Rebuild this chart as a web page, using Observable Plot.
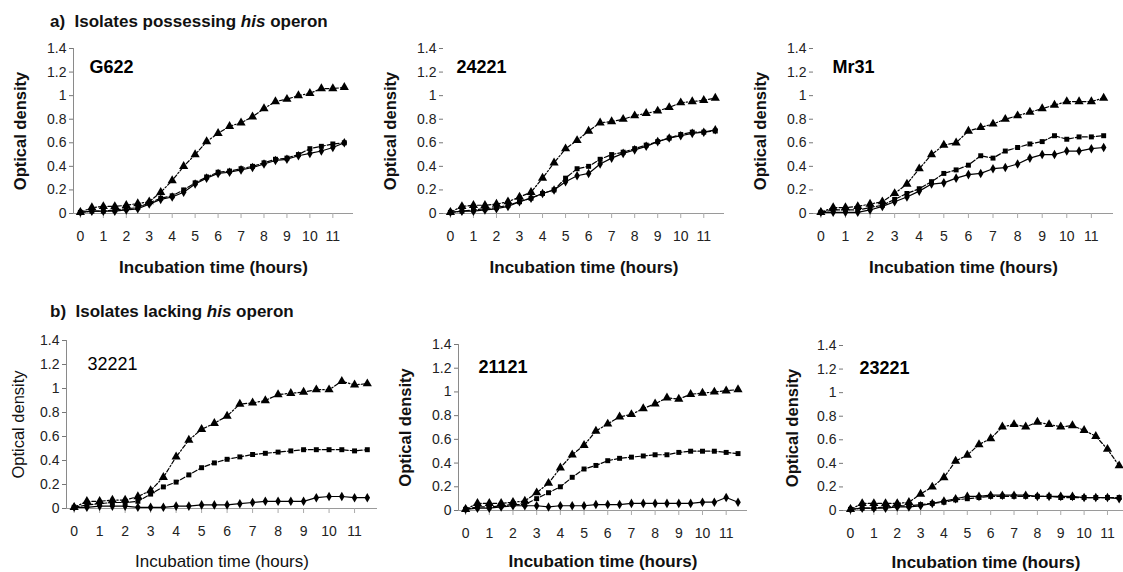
<!DOCTYPE html>
<html><head><meta charset="utf-8">
<script src="https://cdn.jsdelivr.net/npm/d3@7"></script>
<script src="https://cdn.jsdelivr.net/npm/@observablehq/plot@0.6"></script>
<style>
body{margin:0;background:#fff;font-family:"Liberation Sans",Arial,Helvetica,sans-serif;}
#wrap{position:relative;width:1123px;height:572px;overflow:hidden;background:#fff;}
.title{position:absolute;font-size:17px;line-height:1;font-weight:bold;color:#111;white-space:pre;}
.panel{position:absolute;}
</style></head><body>
<div id="wrap">
<div class="title" style="left:50px;top:13px">a)  Isolates possessing <i>his</i> operon</div>
<div class="title" style="left:50px;top:303px">b)  Isolates lacking <i>his</i> operon</div>
</div>
<script>
// ---- data ----
const time = [0,0.5,1,1.5,2,2.5,3,3.5,4,4.5,5,5.5,6,6.5,7,7.5,8,8.5,9,9.5,10,10.5,11,11.5];
const xTickValues = [0,1,2,3,4,5,6,7,8,9,10,11];
const yTickValues = [0,0.2,0.4,0.6,0.8,1,1.2,1.4];
const isolates = ["G622","24221","Mr31","32221","21121","23221"];

const G622_tri = [0.01,0.05,0.06,0.06,0.07,0.085,0.10,0.18,0.28,0.40,0.50,0.61,0.68,0.74,0.77,0.82,0.89,0.95,0.97,1.00,1.02,1.06,1.06,1.07];
const G622_sq  = [0.01,0.02,0.02,0.03,0.04,0.05,0.09,0.13,0.15,0.20,0.26,0.31,0.35,0.36,0.38,0.40,0.43,0.46,0.47,0.50,0.55,0.57,0.59,0.60];
const G622_dia = [0.01,0.02,0.02,0.02,0.03,0.04,0.08,0.12,0.14,0.18,0.25,0.30,0.34,0.35,0.37,0.39,0.42,0.45,0.46,0.49,0.51,0.53,0.56,0.60];

const I24221_tri = [0.01,0.06,0.07,0.07,0.08,0.10,0.14,0.18,0.30,0.43,0.55,0.62,0.70,0.77,0.78,0.80,0.83,0.85,0.87,0.90,0.94,0.95,0.96,0.98];
const I24221_sq  = [0.01,0.02,0.03,0.04,0.05,0.07,0.10,0.13,0.17,0.20,0.30,0.38,0.40,0.46,0.50,0.52,0.55,0.58,0.61,0.64,0.67,0.69,0.69,0.70];
const I24221_dia = [0.01,0.02,0.02,0.03,0.04,0.06,0.10,0.13,0.17,0.20,0.27,0.32,0.34,0.42,0.47,0.51,0.54,0.57,0.61,0.64,0.66,0.68,0.69,0.71];

const Mr31_tri = [0.01,0.05,0.05,0.06,0.08,0.10,0.17,0.25,0.38,0.50,0.58,0.60,0.70,0.73,0.76,0.80,0.83,0.86,0.89,0.92,0.95,0.95,0.95,0.98];
const Mr31_sq  = [0.01,0.03,0.03,0.03,0.05,0.07,0.12,0.17,0.21,0.27,0.34,0.37,0.41,0.49,0.47,0.53,0.56,0.59,0.61,0.66,0.63,0.65,0.65,0.66];
const Mr31_dia = [0.01,0.01,0.01,0.01,0.03,0.06,0.10,0.14,0.19,0.25,0.26,0.30,0.33,0.34,0.38,0.39,0.42,0.47,0.50,0.50,0.53,0.53,0.55,0.56];

const I32221_tri = [0.01,0.06,0.06,0.07,0.07,0.10,0.15,0.26,0.43,0.57,0.66,0.71,0.77,0.87,0.88,0.90,0.95,0.96,0.97,0.99,0.99,1.06,1.03,1.04];
const I32221_sq  = [0.01,0.03,0.04,0.05,0.05,0.06,0.12,0.18,0.22,0.28,0.34,0.38,0.41,0.43,0.45,0.46,0.47,0.48,0.49,0.49,0.49,0.49,0.48,0.49];
const I32221_dia = [0.01,0.01,0.02,0.02,0.02,0.01,0.01,0.01,0.02,0.02,0.03,0.03,0.03,0.04,0.05,0.06,0.06,0.06,0.06,0.09,0.10,0.10,0.09,0.09];

const I21121_tri = [0.01,0.06,0.06,0.06,0.07,0.08,0.15,0.23,0.36,0.47,0.55,0.67,0.73,0.79,0.81,0.86,0.90,0.95,0.94,0.98,0.99,1.00,1.01,1.02];
const I21121_sq  = [0.01,0.03,0.03,0.04,0.05,0.05,0.10,0.15,0.20,0.28,0.35,0.38,0.42,0.44,0.45,0.46,0.47,0.47,0.49,0.50,0.50,0.50,0.49,0.48];
const I21121_dia = [0.01,0.02,0.02,0.03,0.04,0.04,0.04,0.03,0.04,0.04,0.04,0.05,0.05,0.05,0.06,0.06,0.06,0.06,0.06,0.06,0.07,0.07,0.11,0.07];

const I23221_tri = [0.01,0.06,0.06,0.06,0.06,0.07,0.14,0.20,0.28,0.42,0.47,0.56,0.61,0.71,0.73,0.71,0.75,0.73,0.71,0.72,0.68,0.63,0.52,0.38];
const I23221_sq  = [0.01,0.02,0.02,0.03,0.04,0.04,0.05,0.06,0.07,0.09,0.10,0.11,0.12,0.12,0.12,0.12,0.12,0.12,0.11,0.11,0.11,0.11,0.11,0.11];
const I23221_dia = [0.01,0.02,0.02,0.02,0.03,0.03,0.04,0.06,0.08,0.10,0.12,0.12,0.13,0.13,0.13,0.13,0.12,0.12,0.12,0.12,0.11,0.11,0.11,0.10];

const seriesByIsolate = [
  [G622_tri, G622_sq, G622_dia],
  [I24221_tri, I24221_sq, I24221_dia],
  [Mr31_tri, Mr31_sq, Mr31_dia],
  [I32221_tri, I32221_sq, I32221_dia],
  [I21121_tri, I21121_sq, I21121_dia],
  [I23221_tri, I23221_sq, I23221_dia]
];
const yLabel = "Optical density";
const xLabel = "Incubation time (hours)";

// ---- layout (pixel frame of each panel) ----
const xDomain = [-0.3, 11.9];
const layout = [
  {l:73,  r:353,  t:48,  b:213, yLine:true,  bold:true,  nameDx:16, nameDy:24, yLabDx:-53, xLabDy:54},
  {l:443, r:724,  t:48,  b:213, yLine:false, bold:true,  nameDx:13, nameDy:24, yLabDx:-53, xLabDy:54},
  {l:813, r:1113, t:48,  b:213, yLine:false, bold:true,  nameDx:19, nameDy:24, yLabDx:-53, xLabDy:54},
  {l:66,  r:377,  t:340, b:508, yLine:true,  bold:false, nameDx:21, nameDy:29, yLabDx:-48, xLabDy:53},
  {l:458, r:747,  t:344, b:510, yLine:true,  bold:true,  nameDx:20, nameDy:28, yLabDx:-53, xLabDy:51},
  {l:843, r:1128, t:345, b:510, yLine:false, bold:true,  nameDx:16, nameDy:28, yLabDx:-51, xLabDy:52}
];
const styles = [
  {symbol:"triangle", r:3.4, dash:"4,2,1.5,2"},
  {symbol:"square",   r:2.8, dash:"5,2"},
  {symbol:"diamond",  r:2.9, dash:null}
];

const M = {left:62, right:10, top:10, bottom:72};
const wrap = document.getElementById("wrap");

isolates.forEach((name, i) => {
  const L = layout[i];
  const series = seriesByIsolate[i];
  const marks = [];
  marks.push(Plot.ruleY([0], {stroke:"#9a9a9a", strokeWidth:1}));
  if (L.yLine) marks.push(Plot.ruleX([xDomain[0]], {stroke:"#8a8a8a", strokeWidth:1}));
  marks.push(Plot.axisY({ticks:yTickValues, tickFormat:d => String(d), tickSize:4, tickPadding:3, stroke:"#777", fill:"#222", fontSize:14, label:null}));
  marks.push(Plot.axisX({ticks:xTickValues, tickFormat:d => String(d), tickSize:5, tickPadding:13, stroke:"#aaa", fill:"#222", fontSize:14, label:null}));
  series.forEach((vals, k) => {
    const st = styles[k];
    const data = time.map((t, j) => ({t, v: vals[j]}));
    marks.push(Plot.line(data, {x:"t", y:"v", stroke:"#000", strokeWidth:1.2, strokeDasharray: st.dash || undefined}));
    marks.push(Plot.dot(data, {x:"t", y:"v", symbol:st.symbol, r:st.r, fill:"#000", stroke:"none"}));
  });
  marks.push(Plot.text([name], {frameAnchor:"top-left", dx:L.nameDx, dy:L.nameDy, lineAnchor:"bottom", textAnchor:"start",
    fontSize:18, fontWeight: L.bold ? "bold" : "normal", fill:"#000"}));
  marks.push(Plot.text([yLabel], {frameAnchor:"left", dx:L.yLabDx, rotate:-90, textAnchor:"middle", lineAnchor:"middle",
    fontSize:16.5, fontWeight: L.bold ? "bold" : "normal", fill:"#111"}));
  marks.push(Plot.text([xLabel], {frameAnchor:"bottom", dy:L.xLabDy, textAnchor:"middle", lineAnchor:"middle",
    fontSize:17, fontWeight: L.bold ? "bold" : "normal", fill:"#111"}));

  const chart = Plot.plot({
    width: (L.r - L.l) + M.left + M.right,
    height: (L.b - L.t) + M.top + M.bottom,
    marginLeft: M.left, marginRight: M.right, marginTop: M.top, marginBottom: M.bottom,
    style: {fontFamily:"'Liberation Sans', Arial, sans-serif", background:"transparent", overflow:"visible"},
    x: {domain: xDomain},
    y: {domain: [0, 1.4]},
    marks
  });
  chart.classList.add("panel");
  chart.style.left = (L.l - M.left) + "px";
  chart.style.top = (L.t - M.top) + "px";
  wrap.appendChild(chart);
});
</script>
</body></html>
